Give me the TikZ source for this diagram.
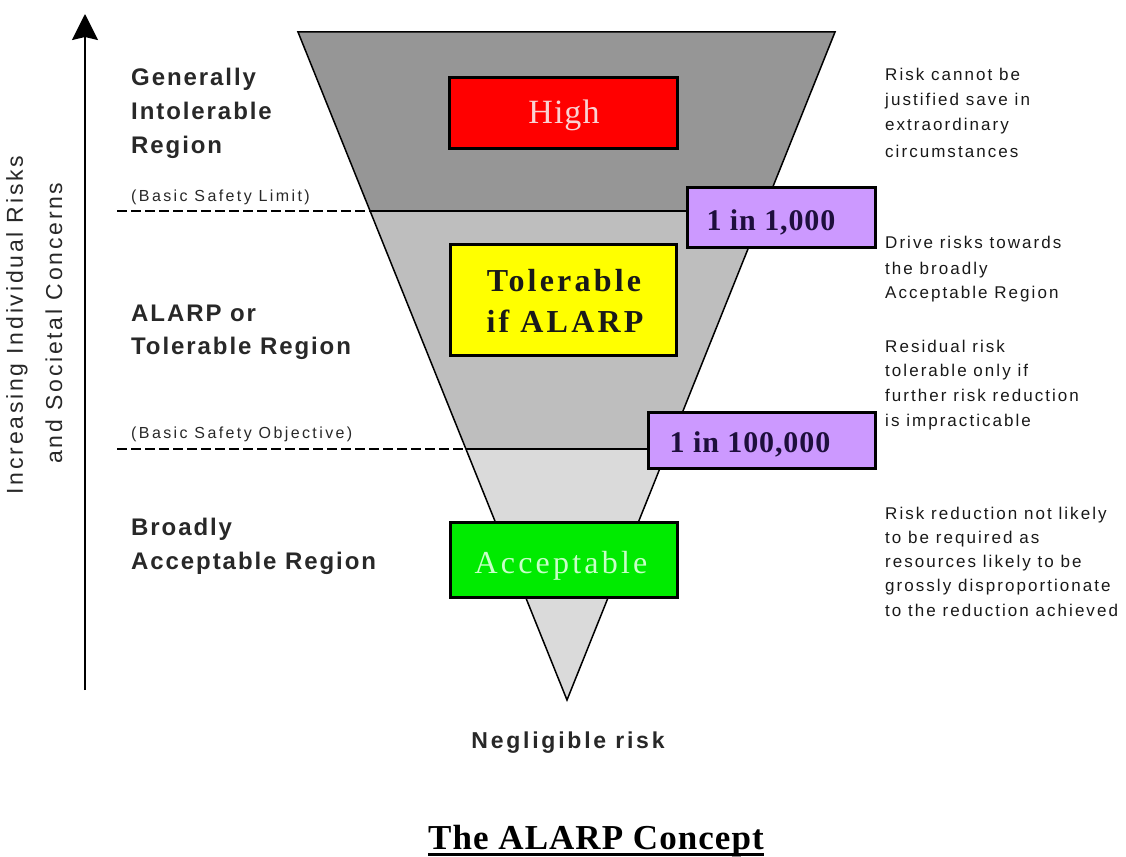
\documentclass[tikz,border=0pt]{standalone}
\usepackage{fontspec}
\setmainfont{Liberation Serif}
\setsansfont{Liberation Sans}
\newfontfamily\regfont[LetterSpace=8]{Liberation Sans}
\newfontfamily\notefont[LetterSpace=12]{Liberation Sans}
\newfontfamily\safefont[LetterSpace=15]{Liberation Sans}
\newfontfamily\axisfont[LetterSpace=12]{Liberation Sans}
\newfontfamily\negfont[LetterSpace=12]{Liberation Sans}
\newfontfamily\serA[LetterSpace=3]{Liberation Serif}
\newfontfamily\serB[LetterSpace=10]{Liberation Serif}
\usetikzlibrary{arrows.meta}
\definecolor{topgray}{RGB}{150,150,150}
\definecolor{midgray}{RGB}{190,190,190}
\definecolor{lowgray}{RGB}{218,218,218}
\definecolor{boxred}{RGB}{255,0,0}
\definecolor{boxyellow}{RGB}{255,255,0}
\definecolor{boxgreen}{RGB}{0,235,0}
\definecolor{boxpurple}{RGB}{204,153,255}
\definecolor{navy}{RGB}{30,15,60}
\definecolor{pinkish}{RGB}{250,210,210}
\definecolor{palegreen}{RGB}{200,255,200}
\definecolor{labgray}{RGB}{40,40,40}
\tikzset{
  edge/.style={line width=1.5pt, draw=black},
  dashline/.style={line width=1.5pt, dash pattern=on 10pt off 4pt},
  axisline/.style={line width=2pt, -{Stealth[length=26pt,width=26pt,inset=3pt]}},
  riskbox/.style={draw=black, line width=3pt, rectangle, inner sep=0pt},
  regionlab/.style={anchor=base west, inner sep=0pt, text=labgray,
    font={\fontsize{24}{28}\selectfont\regfont\bfseries}},
  safelab/.style={anchor=base west, inner sep=0pt, text=labgray,
    font={\fontsize{16}{18}\selectfont\safefont}},
  notelab/.style={anchor=base west, inner sep=0pt, text=black!90,
    font={\fontsize{17}{20}\selectfont\notefont}},
  axislab/.style={anchor=base, inner sep=0pt, rotate=90, text=labgray,
    font={\fontsize{23}{26}\selectfont\axisfont}},
  boxtext/.style={anchor=base, inner sep=0pt},
}
\begin{document}
\begin{tikzpicture}[x=1pt,y=-1pt]
\useasboundingbox (0,0) rectangle (1126,856);
\fill[white] (0,0) rectangle (1126,856);

% funnel geometry
\coordinate (A) at (298,32);
\coordinate (B) at (835,32);
\coordinate (C) at (567,700);
\coordinate (L1) at (370.1,211);
\coordinate (R1) at (763.2,211);
\coordinate (L2) at (465.9,449);
\coordinate (R2) at (667.7,449);
\coordinate (D1) at (117,211);
\coordinate (D2) at (117,449);

\fill[topgray] (A)--(B)--(R1)--(L1)--cycle;
\fill[midgray] (L1)--(R1)--(R2)--(L2)--cycle;
\fill[lowgray] (L2)--(R2)--(C)--cycle;
\draw[edge] (A)--(B)--(C)--cycle;
\draw[edge] (L1)--(R1);
\draw[edge] (L2)--(R2);
\draw[dashline] (D1)--(L1);
\draw[dashline] (D2)--(L2);

% vertical axis
\coordinate (ax0) at (85,690);
\coordinate (ax1) at (85,14);
\draw[axisline] (ax0)--(ax1);
\node[axislab] (axA) at (23,325) {Increasing Individual Risks};
\node[axislab] (axB) at (62,323) {and Societal Concerns};

% boxes
\node[riskbox, fill=boxred, minimum width=228pt, minimum height=71pt] (high) at (563,113) {};
\node[boxtext, text=pinkish, font={\fontsize{34}{40}\selectfont\serA}] (hight) at (564,124) {High};

\node[riskbox, fill=boxyellow, minimum width=226pt, minimum height=111pt] (tol) at (563,300) {};
\node[boxtext, text=black!90, font={\fontsize{32}{40}\selectfont\serB\bfseries}] (tolt1) at (564,291) {Tolerable};
\node[boxtext, text=black!90, font={\fontsize{32}{40}\selectfont\serB\bfseries}] (tolt2) at (565,332) {if ALARP};

\node[riskbox, fill=boxgreen, minimum width=227pt, minimum height=75pt] (acc) at (563.5,559.5) {};
\node[boxtext, text=palegreen, font={\fontsize{32}{40}\selectfont\serB}] (acct) at (561,573) {Acceptable};

\node[riskbox, fill=boxpurple, minimum width=188pt, minimum height=60pt] (r1) at (781,217) {};
\node[boxtext, text=navy, font={\fontsize{30}{36}\selectfont\serA\bfseries}] (r1t) at (771,230) {1 in 1,000};

\node[riskbox, fill=boxpurple, minimum width=227pt, minimum height=56pt] (r2) at (762,440) {};
\node[boxtext, text=navy, font={\fontsize{30}{36}\selectfont\serA\bfseries}] (r2t) at (750,452) {1 in 100,000};

% left region labels
\node[regionlab] (g1) at (131,86) {Generally};
\node[regionlab] (g2) at (131,120) {Intolerable};
\node[regionlab] (g3) at (131,153) {Region};
\node[safelab] (bsl) at (131,201) {(Basic Safety Limit)};
\node[regionlab] (t1) at (131,321) {ALARP or};
\node[regionlab] (t2) at (131,354) {Tolerable Region};
\node[safelab] (bso) at (131,438) {(Basic Safety Objective)};
\node[regionlab] (b1) at (131,535) {Broadly};
\node[regionlab] (b2) at (131,569) {Acceptable Region};

% right notes
\node[notelab] (n1a) at (885,81) {Risk cannot be};
\node[notelab] (n1b) at (885,106) {justified save in};
\node[notelab] (n1c) at (885,131) {extraordinary};
\node[notelab] (n1d) at (885,157) {circumstances};
\node[notelab] (n2a) at (885,248) {Drive risks towards};
\node[notelab] (n2b) at (885,274) {the broadly};
\node[notelab] (n2c) at (885,298) {Acceptable Region};
\node[notelab] (n3a) at (885,352) {Residual risk};
\node[notelab] (n3b) at (885,376) {tolerable only if};
\node[notelab] (n3c) at (885,401) {further risk reduction};
\node[notelab] (n3d) at (885,426) {is impracticable};
\node[notelab] (n4a) at (885,519) {Risk reduction not likely};
\node[notelab] (n4b) at (885,543) {to be required as};
\node[notelab] (n4c) at (885,567) {resources likely to be};
\node[notelab] (n4d) at (885,591) {grossly disproportionate};
\node[notelab] (n4e) at (885,616) {to the reduction achieved};

% bottom
\node[anchor=base, inner sep=0pt, text=labgray, font={\fontsize{23}{26}\selectfont\negfont\bfseries}] (neg) at (568,748) {Negligible risk};
\node[anchor=base, inner sep=0pt, text=black, font={\fontsize{35}{40}\selectfont\serA\bfseries}] (title) at (596,849) {The ALARP Concept};
\draw[line width=3pt] (title.base west) ++(0,5) coordinate (ul0) -- (title.base east |- ul0);
\end{tikzpicture}
\end{document}
